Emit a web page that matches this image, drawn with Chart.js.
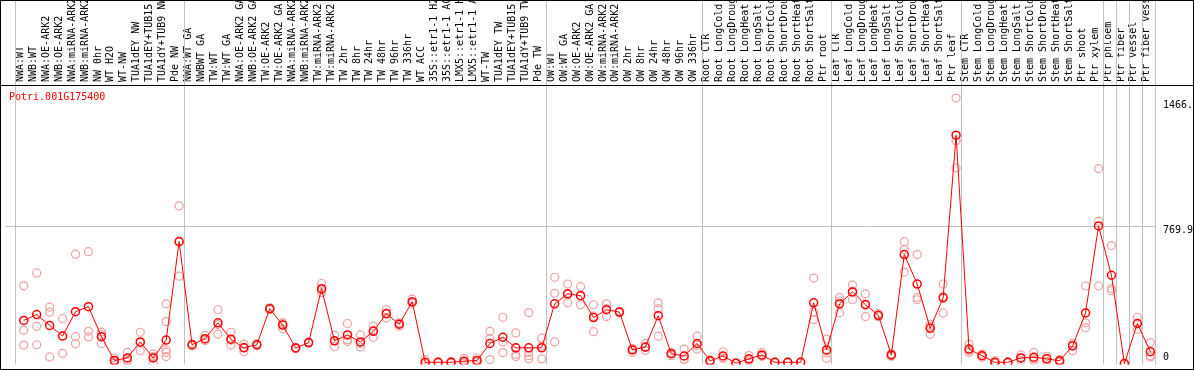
<!DOCTYPE html>
<html>
<head>
<meta charset="utf-8">
<script src="https://cdn.jsdelivr.net/npm/chart.js@4.4.1/dist/chart.umd.min.js"></script>
<style>
  html, body { margin: 0; padding: 0; background: #fff; }
  #wrap { width: 1194px; height: 370px; }
</style>
</head>
<body>
<div id="wrap"><canvas id="c" width="1194" height="370"></canvas></div>
<script>
const geneName = "Potri.001G175400";

const categories = [
  "NWA:WT", "NWB:WT", "NWA:OE-ARK2", "NWB:OE-ARK2", "NWA:miRNA-ARK2", "NWB:miRNA-ARK2",
  "NW 0hr", "WT H2O", "WT-NW", "TUA1dEY NW", "TUA1dEY+TUB15", "TUA1dY+TUB9 NW", "Pde NW",
  "NWA:WT GA", "NWBWT GA", "TW:WT", "TW:WT GA", "NWA:OE-ARK2 GA", "NWB:OE-ARK2 GA",
  "TW:OE-ARK2", "TW:OE-ARK2 GA", "NWA:miRNA-ARK2", "NWB:miRNA-ARK2", "TW:miRNA-ARK2",
  "TW:miRNA-ARK2", "TW 2hr", "TW 8hr", "TW 24hr", "TW 48hr", "TW 96hr", "TW 336hr",
  "WT ACC", "35S::etr1-1 H2O", "35S::etr1-1 ACC", "LMX5::etr1-1 H2O", "LMX5::etr1-1 ACC",
  "WT-TW", "TUA1dEY TW", "TUA1dEY+TUB15", "TUA1dY+TUB9 TW", "Pde TW",
  "OW:WT", "OW:WT GA", "OW:OE-ARK2", "OW:OE-ARK2 GA", "OW:miRNA-ARK2", "OW:miRNA-ARK2",
  "OW 2hr", "OW 8hr", "OW 24hr", "OW 48hr", "OW 96hr", "OW 336hr",
  "Root CTR", "Root LongCold", "Root LongDrought", "Root LongHeat", "Root LongSalt",
  "Root ShortCold", "Root ShortDrought", "Root ShortHeat", "Root ShortSalt", "Ptr root",
  "Leaf CTR", "Leaf LongCold", "Leaf LongDrought", "Leaf LongHeat", "Leaf LongSalt",
  "Leaf ShortCold", "Leaf ShortDrought", "Leaf ShortHeat", "Leaf ShortSalt", "Ptr leaf",
  "Stem CTR", "Stem LongCold", "Stem LongDrought", "Stem LongHeat", "Stem LongSalt",
  "Stem ShortCold", "Stem ShortDrought", "Stem ShortHeat", "Stem ShortSalt", "Ptr shoot",
  "Ptr xylem", "Ptr phloem", "Ptr fiber", "Ptr vessel", "Ptr fiber vessel"
];

// index of the first category of each group, plus the end
const groupStarts = [0, 13, 41, 53, 63, 73, 84, 85, 86, 87, 88];

const means = [
  241, 274, 213, 154, 290, 318, 150, 17, 31, 121, 31, 131, 683,
  105, 139, 228, 136, 88, 105, 307, 215, 87, 117, 419, 127, 160, 121, 180, 279, 220, 346,
  7, 7, 7, 13, 17, 112, 147, 88, 88, 88,
  334, 390, 380, 257, 301, 288, 76, 92, 268, 55, 42, 112,
  15, 42, 2, 26, 48, 7, 7, 7, 340, 76,
  334, 401, 329, 270, 48, 610, 445, 197, 368, 1278,
  81, 44, 7, 7, 31, 35, 26, 15, 99, 283, 770,
  494, 0, 224, 66
];

const replicates = [
  [435, 186, 103], [507, 208, 105], [316, 288, 37], [252, 57, 154], [612, 150, 110], [626, 180, 149],
  [176, 162, 112], [31, 13, 2], [62, 13, 20], [175, 72, 117], [53, 2, 39], [334, 235, 76, 62, 39], [882, 489, 679],
  [110, 100, 105], [158, 130, 130], [301, 164, 218], [175, 103, 130], [109, 66, 90], [110, 99, 106],
  [312, 302, 307], [227, 194, 224], [90, 83, 88], [120, 114, 117], [448, 397, 412], [158, 94, 128],
  [224, 123, 133], [160, 92, 112], [209, 147, 185], [301, 255, 282], [209, 228, 224], [360, 338, 340],
  [22, 0, 0], [10, 5, 6], [12, 4, 5], [29, 5, 5], [31, 9, 10],
  [180, 139, 22], [259, 121, 61], [171, 51, 39], [285, 62, 44, 26], [142, 26, 96],
  [483, 393, 121], [445, 340, 385], [430, 329, 381], [329, 178, 265], [334, 263, 307], [292, 284, 288],
  [84, 62, 80], [113, 74, 90], [340, 307, 153], [62, 44, 59], [81, 22, 24], [153, 81, 102],
  [20, 10, 15], [66, 30, 31], [4, 0, 2], [44, 16, 18], [62, 40, 42], [9, 5, 7], [9, 5, 7], [9, 5, 7],
  [478, 288, 246], [136, 60, 29],
  [369, 283, 350], [439, 357, 405], [390, 263, 334], [280, 262, 268], [55, 40, 49],
  [682, 639, 512], [610, 369, 357], [219, 164, 208], [445, 283, 376], [1486, 1247, 1095],
  [109, 62, 72], [53, 35, 44], [17, 2, 3], [10, 5, 6], [48, 17, 29], [62, 17, 26], [40, 12, 26],
  [22, 8, 15], [112, 72, 113], [434, 228, 200], [1091, 797, 434],
  [660, 420, 408], [0, 0, 0], [259, 191, 222], [117, 44, 37]
];

const yTickValues = [0, 769.9, 1466];
const yTickLabels = ["0", "769.9", "1466."];
const yGridValues = [769.9];

const FONT = "'DejaVu Sans Mono', 'Liberation Mono', monospace";

const meanPoints = means.map((v, i) => ({ x: i, y: v }));
const repPoints = [];
replicates.forEach((arr, i) => arr.forEach(v => repPoints.push({ x: i, y: v })));

const decor = {
  id: 'decor',
  beforeDatasetsDraw(chart) {
    const { ctx, chartArea, scales } = chart;
    const xs = scales.x, ys = scales.y;
    ctx.save();
    ctx.strokeStyle = '#c0c0c0';
    ctx.lineWidth = 1;
    groupStarts.forEach(g => {
      const px = Math.round(xs.getPixelForValue(g - 0.64)) + 0.5;
      ctx.beginPath();
      ctx.moveTo(px, 0);
      ctx.lineTo(px, chartArea.bottom);
      ctx.stroke();
    });
    yGridValues.forEach(v => {
      const py = Math.round(ys.getPixelForValue(v)) + 0.5;
      ctx.beginPath();
      ctx.moveTo(chartArea.left, py);
      ctx.lineTo(xs.getPixelForValue(groupStarts[groupStarts.length - 1] - 0.64), py);
      ctx.stroke();
    });
    ctx.restore();
  },
  afterDraw(chart) {
    const { ctx, chartArea, scales, width, height } = chart;
    const ys = scales.y;
    ctx.save();
    ctx.strokeStyle = '#000';
    ctx.lineWidth = 1;
    ctx.strokeRect(0.5, 0.5, width - 1, height - 1);
    ctx.beginPath();
    ctx.moveTo(0, Math.round(chartArea.top) + 0.5);
    ctx.lineTo(width, Math.round(chartArea.top) + 0.5);
    ctx.stroke();
    ctx.fillStyle = '#ff0000';
    ctx.font = '10px ' + FONT;
    ctx.textBaseline = 'middle';
    ctx.textAlign = 'left';
    ctx.fillText(geneName, 9, chartArea.top + 12);
    ctx.fillStyle = '#000';
    yTickValues.forEach((v, i) => {
      let py = ys.getPixelForValue(v) + 4;
      py = Math.min(py, chartArea.bottom - 7);
      ctx.fillText(yTickLabels[i], 1163, py);
    });
    ctx.restore();
  }
};

new Chart(document.getElementById('c'), {
  data: {
    datasets: [
      {
        type: 'line',
        label: 'mean',
        data: meanPoints,
        order: 0,
        borderColor: '#ff0000',
        borderWidth: 1,
        tension: 0,
        pointRadius: 4,
        pointBorderWidth: 1.5,
        pointBorderColor: '#ff0000',
        pointBackgroundColor: 'rgba(0,0,0,0)'
      },
      {
        type: 'scatter',
        label: 'replicates',
        data: repPoints,
        order: 1,
        showLine: false,
        pointRadius: 4,
        pointBorderWidth: 1.2,
        pointBorderColor: '#f0a0a0',
        pointBackgroundColor: 'rgba(0,0,0,0)'
      }
    ]
  },
  options: {
    responsive: false,
    animation: false,
    devicePixelRatio: 1,
    layout: { padding: { left: 1, right: 38.5, top: 0, bottom: 1 } },
    plugins: { legend: { display: false }, tooltip: { enabled: false } },
    scales: {
      x: {
        type: 'linear',
        position: 'top',
        min: -1.408,
        max: 87.4,
        afterBuildTicks(scale) {
          scale.ticks = categories.map((c, i) => ({ value: i }));
        },
        afterFit(scale) {
          scale.height = 85;
          scale.paddingLeft = 0;
          scale.paddingRight = 0;
        },
        grid: { display: false, drawTicks: false },
        border: { display: false },
        ticks: {
          autoSkip: false,
          minRotation: 90,
          maxRotation: 90,
          padding: 3,
          labelOffset: 8.5,
          color: '#000',
          font: { family: FONT, size: 10 },
          callback: (v, i) => categories[i]
        }
      },
      y: {
        type: 'linear',
        display: false,
        min: -5.5,
        max: 1559
      }
    }
  },
  plugins: [decor]
});
</script>
</body>
</html>
